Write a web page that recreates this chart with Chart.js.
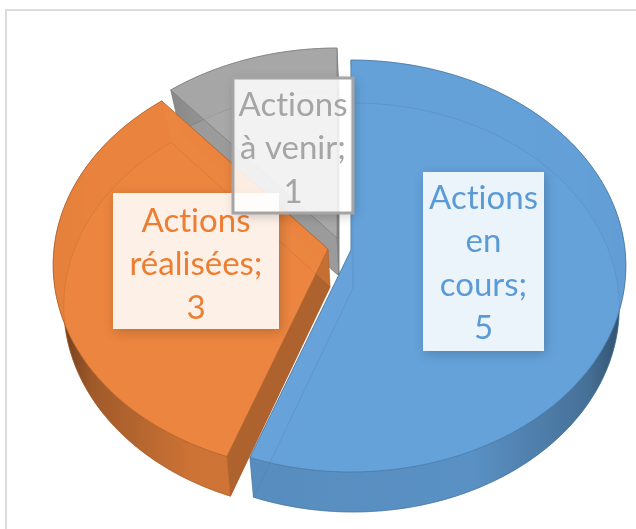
<!DOCTYPE html>
<html>
<head>
<meta charset="utf-8">
<script src="https://cdn.jsdelivr.net/npm/chart.js@4"></script>
<style>
    html, body { margin: 0; padding: 0; background: #fff; overflow: hidden; }
    #wrap { position: relative; width: 636px; height: 529px; }
    #frame { position: absolute; left: 5px; top: 9px; width: 700px; height: 600px; border: 2px solid #dcdcdc; }
    canvas { position: absolute; left: 0; top: 0; }
</style>
</head>
<body>
<div id="wrap">
    <div id="frame"></div>
    <canvas id="pie" width="636" height="529"></canvas>
</div>
<script>
const categories = ['Actions en cours', 'Actions réalisées', 'Actions à venir'];
const values = [5, 3, 1];
const labelLines = [
    ['Actions', 'en', 'cours;'],
    ['Actions', 'réalisées;'],
    ['Actions', 'à venir;']
];

// Display colours
const topColors = [[101, 162, 218], [236, 133, 62], [168, 168, 168]];
const textColors = ['#5b9bd5', '#ed7d31', '#a5a5a5'];

// Where each exploded slice has its tip on screen
const sliceTips = [{ x: 351, y: 250 }, { x: 328, y: 249 }, { x: 337, y: 238 }];

// Label boxes, in drawing order
const labelBoxes = [
    { i: 0, x: 423, y: 172, w: 121, h: 179, first: 198, fill: 'rgba(255,255,255,0.88)' },
    { i: 1, x: 113, y: 193, w: 166, h: 136, first: 221, fill: 'rgba(255,255,255,0.88)' },
    { i: 2, x: 233, y: 78, w: 120, h: 135, first: 105, fill: 'rgba(255,255,255,0.85)', border: '#a5a5a5' }
];

// Top and bottom faces of the disc, with their own perspective
const topPlane = { rx: 274, ry: 204.7, k: 0.0776, dx: 0, dy: 0 };
const bottomPlane = { rx: 265, ry: 202.6, k: 0.0954, dx: 2, dy: 38 };

const rgba = (c, a, f = 1) => `rgba(${c[0] * f | 0}, ${c[1] * f | 0}, ${c[2] * f | 0}, ${a})`;

function project(plane, tip, theta) {
    const u = Math.sin(theta), v = Math.cos(theta);
    const w = 1 + plane.k * v;
    return { x: tip.x + plane.dx + plane.rx * u / w, y: tip.y + plane.dy - plane.ry * v / w };
}

function arcPoints(plane, tip, t0, t1) {
    const pts = [];
    const steps = Math.ceil((t1 - t0) / (Math.PI / 180));
    for (let s = 0; s <= steps; s++) pts.push(project(plane, tip, t0 + (t1 - t0) * s / steps));
    return pts;
}

function tracePoly(ctx, pts) {
    ctx.beginPath();
    pts.forEach((p, n) => n ? ctx.lineTo(p.x, p.y) : ctx.moveTo(p.x, p.y));
    ctx.closePath();
}

function paintPoly(ctx, pts, fill, stroke) {
    tracePoly(ctx, pts);
    ctx.fillStyle = fill;
    ctx.fill();
    if (stroke) {
        ctx.strokeStyle = stroke;
        ctx.lineWidth = 1;
        ctx.stroke();
    }
}

function drawSlice(ctx, arc, i) {
    const color = topColors[i];
    const tip = sliceTips[i];
    const t0 = arc.startAngle + Math.PI / 2;
    const t1 = arc.endAngle + Math.PI / 2;
    const topArc = arcPoints(topPlane, tip, t0, t1);
    const botArc = arcPoints(bottomPlane, tip, t0, t1);
    const topTip = { x: tip.x, y: tip.y };
    const botTip = { x: tip.x + bottomPlane.dx, y: tip.y + bottomPlane.dy };
    const line = rgba(color, 0.4, 0.72);

    // Bottom face
    paintPoly(ctx, [botTip, ...botArc], rgba(color, 0.9), line);

    // Radial walls: the ones facing the viewer are darker
    const startWall = [topTip, topArc[0], botArc[0], botTip];
    const endWall = [topTip, topArc[topArc.length - 1], botArc[botArc.length - 1], botTip];
    paintPoly(ctx, startWall, i === 1 ? rgba(color, 1, 0.74) : rgba(color, 0.7, 0.88), line);
    paintPoly(ctx, endWall, i === 2 ? rgba(color, 1, 0.78) : rgba(color, 0.7, 0.88), line);

    // Rim, shaded towards the two side extremes of the disc
    const grad = ctx.createLinearGradient(tip.x - topPlane.rx, 0, tip.x + topPlane.rx, 0);
    grad.addColorStop(0, rgba(color, 1, 0.42));
    grad.addColorStop(0.07, rgba(color, 1, 0.68));
    grad.addColorStop(0.25, rgba(color, 1, 0.87));
    grad.addColorStop(0.72, rgba(color, 1, 0.9));
    grad.addColorStop(0.93, rgba(color, 1, 0.7));
    grad.addColorStop(1, rgba(color, 1, 0.48));
    paintPoly(ctx, [...topArc, ...botArc.slice().reverse()], grad, line);

    // Top face, then the lower outline showing faintly through it
    paintPoly(ctx, [topTip, ...topArc], rgba(color, 0.95), rgba(color, 0.7, 0.75));
    tracePoly(ctx, [botTip, ...botArc]);
    ctx.strokeStyle = rgba(color, 0.22, 0.7);
    ctx.lineWidth = 1;
    ctx.stroke();
}

const pie3d = {
    id: 'pie3d',
    beforeDatasetDraw(chart, args) {
        const ctx = chart.ctx;
        const arcs = chart.getDatasetMeta(args.index).data;
        ctx.save();
        for (let i = arcs.length - 1; i >= 0; i--) drawSlice(ctx, arcs[i], i);
        ctx.restore();
        return false;
    }
};

const dataLabels = {
    id: 'dataLabels',
    afterDraw(chart) {
        const ctx = chart.ctx;
        ctx.save();
        for (const box of labelBoxes) {
            // Shadow only outside the box, otherwise it greys the translucent fill
            ctx.save();
            ctx.beginPath();
            ctx.rect(0, 0, chart.width, chart.height);
            ctx.rect(box.x, box.y, box.w, box.h);
            ctx.clip('evenodd');
            ctx.shadowColor = 'rgba(0,0,0,0.2)';
            ctx.shadowBlur = 11;
            ctx.shadowOffsetX = 2;
            ctx.shadowOffsetY = 3;
            ctx.fillStyle = '#000';
            ctx.fillRect(box.x, box.y, box.w, box.h);
            ctx.restore();

            ctx.fillStyle = box.fill;
            ctx.fillRect(box.x, box.y, box.w, box.h);
            if (box.border) {
                ctx.strokeStyle = box.border;
                ctx.lineWidth = 3;
                ctx.strokeRect(box.x, box.y, box.w, box.h);
            }
            ctx.fillStyle = textColors[box.i];
            ctx.font = '33px Lato, "Open Sans", sans-serif';
            ctx.letterSpacing = '0.01px'; // stops the Lato "ti" ligature
            ctx.textAlign = 'center';
            ctx.textBaseline = 'middle';
            const lines = [...labelLines[box.i], String(values[box.i])];
            lines.forEach((txt, n) => {
                ctx.fillText(txt, box.x + box.w / 2, box.first + n * 43.5);
            });
        }
        ctx.restore();
    }
};

new Chart(document.getElementById('pie'), {
    type: 'pie',
    data: {
        labels: categories,
        datasets: [{ data: values, backgroundColor: textColors, borderWidth: 0 }]
    },
    options: {
        responsive: false,
        animation: false,
        rotation: 0,
        plugins: {
            legend: { display: false },
            tooltip: { enabled: false }
        }
    },
    plugins: [pie3d, dataLabels]
});
</script>
</body>
</html>
